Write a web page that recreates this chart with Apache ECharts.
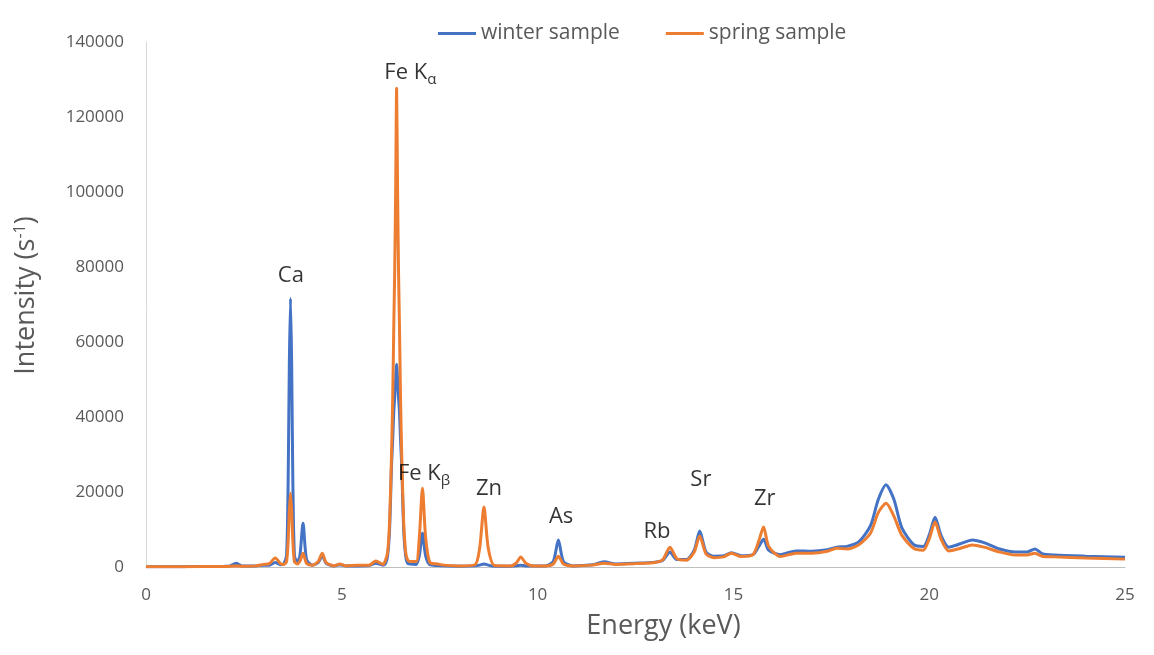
<!DOCTYPE html>
<html>
<head>
<meta charset="utf-8">
<script src="https://cdn.jsdelivr.net/npm/echarts@6/dist/echarts.min.js"></script>
<style>html,body{margin:0;padding:0;background:#fff}#c{width:1154px;height:655px}</style>
</head>
<body>
<div id="c"></div>
<script>
const energy = [0,1.0,2.0,2.15,2.3,2.45,2.8,3.0,3.15,3.3,3.45,3.52,3.59,3.63,3.66,3.69,3.72,3.75,3.79,3.86,3.93,4.01,4.1,4.25,4.4,4.5,4.6,4.8,4.95,5.1,5.4,5.7,5.87,6.05,6.12,6.17,6.22,6.27,6.3,6.33,6.35,6.375,6.4,6.425,6.45,6.47,6.5,6.53,6.58,6.63,6.68,6.75,6.9,6.98,7.06,7.14,7.25,7.45,7.6,8.0,
  8.4,8.52,8.63,8.74,8.9,9.3,9.45,9.57,9.7,9.9,10.2,10.4,10.53,10.66,10.9,11.4,11.7,12.0,12.5,13.0,13.2,13.38,13.55,13.8,14.0,14.14,14.3,14.5,14.75,14.95,15.2,15.5,15.65,15.77,15.9,16.2,16.6,17.0,17.4,17.64,17.9,18.2,18.5,18.7,18.9,19.1,19.3,19.6,19.85,20.0,20.15,20.3,20.5,20.8,21.1,21.4,21.8,22.2,22.5,22.7,22.9,23.2,24.0,25.0];
const winter = [100,100,200,300,1000,300,300,500,500,1200,600,900,3200,23000,54000,71700,54000,23000,3200,1200,3000,11700,2000,500,1200,3000,1000,300,600,300,300,400,1000,500,1000,3000,10000,27000,34000,42000,45000,50000,54000,50000,45000,42000,34000,27000,10000,3000,1000,800,700,3000,9000,3000,600,400,300,200,
  300,500,800,500,200,200,300,500,300,300,300,1500,7200,1500,300,600,1400,800,1000,1300,1800,4000,2000,2000,4500,9600,4000,2900,3000,3800,3000,3300,5500,7400,4500,3300,4300,4200,4600,5300,5500,6700,11000,18000,21900,18000,10500,6000,5500,8500,13300,8500,5300,6200,7200,6500,4800,4000,4000,4800,3500,3200,2900,2600];
const spring = [100,100,150,200,300,200,300,700,900,2400,800,700,1500,7000,15000,19700,15000,7000,1500,800,1500,3700,1000,500,1500,3700,1200,300,800,300,500,500,1600,700,1900,4000,12000,30000,45000,66000,78000,100000,127700,100000,78000,66000,45000,30000,12000,4000,1900,1500,1500,8000,21000,8000,1200,800,500,300,
  600,5000,16000,5000,400,300,1000,2700,1000,300,300,800,2900,800,300,500,1000,700,900,1200,2000,5300,2300,1800,4000,8300,3500,2500,2700,3700,2800,3300,7000,10700,5500,2800,3700,3700,4200,5000,4800,5900,9000,14500,17000,13500,8500,5000,4500,7500,12000,7500,4300,5000,5900,5300,4000,3200,3200,3700,2800,2700,2400,2100];
const peakLabels = ['Ca','Fe K{a|α}','Fe K{b|β}','Zn','As','Rb','Sr','Zr'];
const labelE = [3.7,6.75,7.1,8.76,10.6,13.05,14.17,15.8];
const labelI = [77600,131700,24800,20800,13300,9300,23200,18100];
const xTicks = [0,5,10,15,20,25];

const pairs = arr => energy.map((e,i)=>[e,arr[i]]);
const chart = echarts.init(document.getElementById('c'));
const ff = '"Open Sans", "Liberation Sans", sans-serif';
chart.setOption({
  animation:false,
  textStyle:{fontFamily:ff},
  legend:{top:18,left:433,itemWidth:38,itemHeight:3,itemGap:46,
    textStyle:{fontSize:21,color:'#595959',fontFamily:ff},
    data:[{name:'winter sample',icon:'rect'},{name:'spring sample',icon:'rect'}]},
  grid:{left:146,right:29,top:42,bottom:88},
  xAxis:{type:'value',min:0,max:25,interval:5,
    name:'Energy (keV)',nameLocation:'middle',nameGap:46,
    nameTextStyle:{fontSize:27,color:'#595959',fontFamily:ff,padding:[0,0,0,56]},
    axisLine:{lineStyle:{color:'#bfbfbf',width:1}},axisTick:{show:false},
    axisLabel:{fontSize:17,color:'#595959',margin:20,fontFamily:ff,
      formatter:v=>xTicks.includes(v)?String(v):''},
    splitLine:{show:false}},
  yAxis:{type:'value',min:0,max:140000,interval:20000,
    name:'Intensity (s{s|-1})',nameLocation:'middle',nameGap:106,
    nameTextStyle:{fontSize:27,color:'#595959',fontFamily:ff,padding:[0,0,0,18],
      rich:{s:{fontSize:16,color:'#595959',verticalAlign:'top',padding:[0,0,12,0]}}},
    axisLine:{show:true,lineStyle:{color:'#d9d9d9',width:1}},axisTick:{show:false},
    axisLabel:{fontSize:17,color:'#595959',margin:22,fontFamily:ff,formatter:v=>String(v)},
    splitLine:{show:false}},
  series:[
    {name:'winter sample',type:'line',data:pairs(winter),showSymbol:false,smooth:0.25,
      lineStyle:{color:'#4472C4',width:3},itemStyle:{color:'#4472C4'},z:2},
    {name:'spring sample',type:'line',data:pairs(spring),showSymbol:false,smooth:0.25,
      lineStyle:{color:'#ED7D31',width:3},itemStyle:{color:'#ED7D31'},z:3},
    {name:'labels',type:'scatter',symbolSize:0,silent:true,z:5,
      data:labelE.map((e,i)=>({value:[e,labelI[i]],label:{formatter:peakLabels[i]}})),
      label:{show:true,position:'inside',fontSize:22,color:'#000',fontFamily:ff,
        rich:{a:{fontSize:15,color:'#000',verticalAlign:'bottom',padding:[14,0,0,0]},
              b:{fontSize:15,color:'#000',verticalAlign:'bottom',padding:[14,0,0,0]}}}}
  ]
});
</script>
</body>
</html>
